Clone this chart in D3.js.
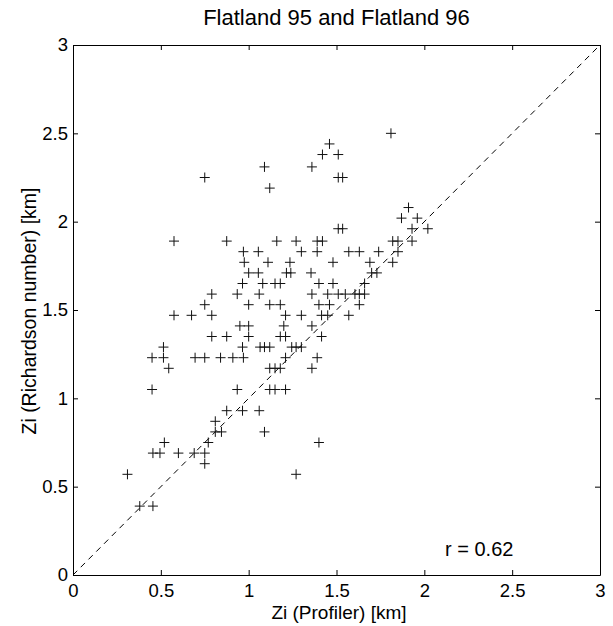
<!DOCTYPE html>
<html>
<head>
<meta charset="utf-8">
<script src="https://cdn.jsdelivr.net/npm/d3@7"></script>
<style>
  body { margin: 0; background: #fff; }
  svg text { font-family: "Liberation Sans", Arial, sans-serif; fill: #000; }
</style>
</head>
<body>
<div id="chart"></div>
<script>
// Zi profiler vs Zi Richardson number
var profilerKm = [
    0.75, 1.09, 1.12, 1.36, 1.42, 1.46, 1.51, 1.51, 1.535, 1.81,
    1.91, 1.87, 1.96, 1.51, 1.535, 1.93, 2.02,
    0.575, 0.875, 1.16, 1.27, 1.39, 1.42, 1.82, 1.85, 1.93,
    0.97, 1.055, 1.30, 1.39, 1.57, 1.63, 1.74, 1.85,
    0.975, 1.11, 1.235, 1.48, 1.69, 1.82,
    1.0, 1.055, 1.215, 1.24, 1.355, 1.70, 1.73,
    0.965, 1.08, 1.15, 1.18, 1.40, 1.48, 1.66,
    0.79, 0.935, 1.06, 1.36, 1.45, 1.51, 1.55, 1.605, 1.63, 1.66,
    0.75, 1.0, 1.12, 1.18, 1.40, 1.46, 1.63,
    0.575, 0.675, 0.79, 1.21, 1.30, 1.415, 1.45, 1.57,
    0.95, 1.0, 1.20, 1.36,
    0.79, 0.875, 1.0, 1.18, 1.21, 1.415,
    0.515, 0.965, 1.065, 1.09, 1.12, 1.245, 1.27, 1.30,
    0.45, 0.515, 0.695, 0.75, 0.84, 0.91, 0.97, 1.21, 1.39,
    0.545, 1.12, 1.15, 1.18, 1.36,
    0.45, 0.935, 1.12, 1.15, 1.21,
    0.875, 0.965, 1.06,
    0.81,
    0.81, 0.845, 1.09,
    0.52, 0.77, 1.40,
    0.455, 0.495, 0.60, 0.69, 0.75,
    0.75,
    0.31, 1.27,
    0.38, 0.455
]
var richardsonKm = [
    2.25, 2.31, 2.19, 2.31, 2.38, 2.44, 2.38, 2.25, 2.25, 2.50,
    2.08, 2.02, 2.02, 1.96, 1.96, 1.96, 1.96,
    1.89, 1.89, 1.89, 1.89, 1.89, 1.89, 1.89, 1.89, 1.89,
    1.83, 1.83, 1.83, 1.83, 1.83, 1.83, 1.83, 1.83,
    1.77, 1.77, 1.77, 1.77, 1.77, 1.77,
    1.71, 1.71, 1.71, 1.71, 1.71, 1.71, 1.71,
    1.65, 1.65, 1.65, 1.65, 1.65, 1.65, 1.65,
    1.59, 1.59, 1.59, 1.59, 1.59, 1.59, 1.59, 1.59, 1.59, 1.59,
    1.53, 1.53, 1.53, 1.53, 1.53, 1.53, 1.53,
    1.47, 1.47, 1.47, 1.47, 1.47, 1.47, 1.47, 1.47,
    1.41, 1.41, 1.41, 1.41,
    1.35, 1.35, 1.35, 1.35, 1.35, 1.35,
    1.29, 1.29, 1.29, 1.29, 1.29, 1.29, 1.29, 1.29,
    1.23, 1.23, 1.23, 1.23, 1.23, 1.23, 1.23, 1.23, 1.23,
    1.17, 1.17, 1.17, 1.17, 1.17,
    1.05, 1.05, 1.05, 1.05, 1.05,
    0.93, 0.93, 0.93,
    0.87,
    0.81, 0.81, 0.81,
    0.75, 0.75, 0.75,
    0.69, 0.69, 0.69, 0.69, 0.69,
    0.63,
    0.57, 0.57,
    0.39, 0.39
]
var tickVals = [0, 0.5, 1, 1.5, 2, 2.5, 3]
var tickLabels = ["0", "0.5", "1", "1.5", "2", "2.5", "3"]
var diagonal = [[0, 0], [3, 3]]
var rText = "r = 0.62"

var W = 613, H = 626
var m = { left: 73, right: 13, top: 45, bottom: 51 }

var svg = d3.select("#chart").append("svg")
    .attr("width", W).attr("height", H)

var x = d3.scaleLinear().domain([0, 3]).range([m.left, W - m.right])
var y = d3.scaleLinear().domain([0, 3]).range([H - m.bottom, m.top])

var pts = profilerKm.map((v, i) => ({ x: v, y: richardsonKm[i] }))

// axes, MATLAB style: ticks inside, box all round
var tk = 5
var fmt = (d, i) => tickLabels[i]
svg.append("g").attr("transform", "translate(0," + y(0) + ")")
    .call(d3.axisBottom(x).tickValues(tickVals).tickFormat(fmt).tickSizeInner(-tk).tickSizeOuter(0).tickPadding(9))
svg.append("g").attr("transform", "translate(0," + y(3) + ")")
    .call(d3.axisTop(x).tickValues(tickVals).tickFormat("").tickSizeInner(-tk).tickSizeOuter(0))
svg.append("g").attr("transform", "translate(" + x(0) + ",0)")
    .call(d3.axisLeft(y).tickValues(tickVals).tickFormat(fmt).tickSizeInner(-tk).tickSizeOuter(0).tickPadding(5))
svg.append("g").attr("transform", "translate(" + x(3) + ",0)")
    .call(d3.axisRight(y).tickValues(tickVals).tickFormat("").tickSizeInner(-tk).tickSizeOuter(0))

svg.selectAll(".domain").attr("stroke", "#000").attr("stroke-width", 1)
svg.selectAll(".tick line").attr("stroke", "#000")
svg.selectAll(".tick text").style("font-size", "18.5px")

// 1:1 line
svg.append("path")
    .attr("d", d3.line().x(d => x(d[0])).y(d => y(d[1]))(diagonal))
    .attr("fill", "none").attr("stroke", "#000").attr("stroke-width", 1)
    .attr("stroke-dasharray", "6,5")

// plus markers
var s = 5
svg.append("g").selectAll("path").data(pts).enter().append("path")
    .attr("d", d => {
        var px = x(d.x), py = y(d.y)
        return "M" + (px - s) + "," + py + "H" + (px + s) + "M" + px + "," + (py - s) + "V" + (py + s)
    })
    .attr("stroke", "#111").attr("stroke-width", 1).attr("fill", "none")

svg.append("text").attr("x", 445).attr("y", 556)
    .style("font-size", "20px").text(rText)

svg.append("text").attr("x", (x(0) + x(3)) / 2).attr("y", 25)
    .attr("text-anchor", "middle").style("font-size", "22px")
    .text("Flatland 95 and Flatland 96")

svg.append("text").attr("x", 339).attr("y", 619)
    .attr("text-anchor", "middle").style("font-size", "19px")
    .text("Zi (Profiler) [km]")

svg.append("text")
    .attr("transform", "translate(36," + 311 + ") rotate(-90)")
    .attr("text-anchor", "middle").style("font-size", "19.5px")
    .text("Zi (Richardson number) [km]")
</script>
</body>
</html>
